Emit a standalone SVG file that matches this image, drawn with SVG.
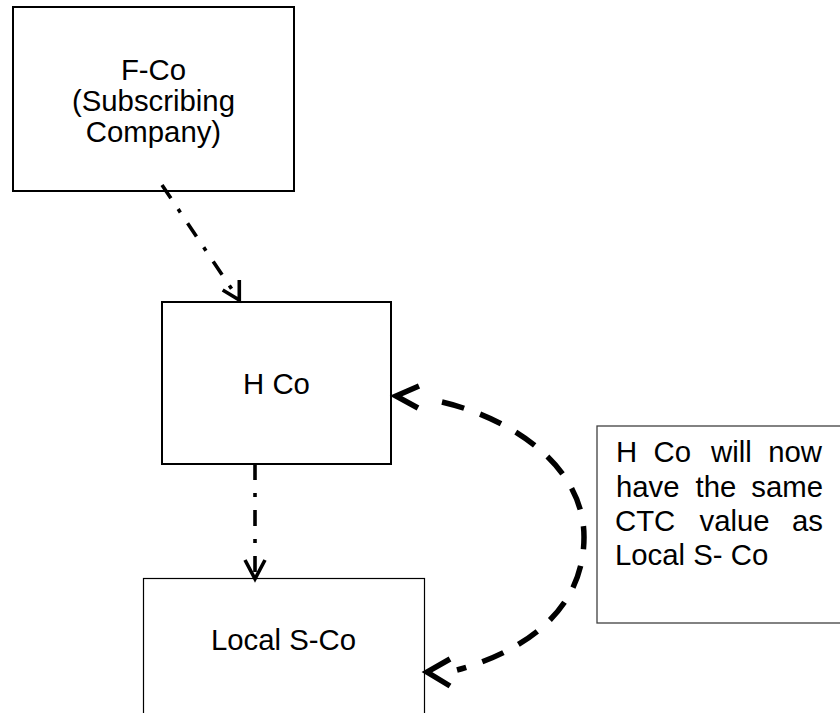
<svg xmlns="http://www.w3.org/2000/svg" width="840" height="713" viewBox="0 0 840 713">
<style>
  .box { fill: #ffffff; stroke: #000000; stroke-width: 2; }
  .thin { fill: #ffffff; stroke: #000000; stroke-width: 1.2; }
  .note { fill: #ffffff; stroke: #404040; stroke-width: 1.3; }
  text { font-family: "Liberation Sans", Arial, sans-serif; font-size: 29.33px; fill: #000000; }
  .c { text-anchor: middle; }
  .e { text-anchor: end; }
  .dashdot { fill: none; stroke: #000000; stroke-width: 3.6; stroke-dasharray: 16 13 4 13; }
  .dashed { fill: none; stroke: #000000; stroke-width: 5.5; stroke-dasharray: 23 17; }
  .head { fill: none; stroke: #000000; stroke-width: 3.6; stroke-linejoin: miter; }
  .headB { fill: none; stroke: #000000; stroke-width: 5.5; stroke-linejoin: miter; }
</style>
<rect width="840" height="713" fill="#ffffff"/>
<g id="fco">
  <rect class="box" x="13" y="7" width="281" height="184"/>
  <text class="c" x="153.5" y="80">F-Co</text>
  <text class="c" x="153.5" y="111">(Subscribing</text>
  <text class="c" x="153.5" y="142">Company)</text>
</g>
<g id="hco">
  <rect class="box" x="162" y="302" width="229" height="162"/>
  <text class="c" x="276.5" y="394">H Co</text>
</g>
<g id="localsco">
  <rect class="thin" x="143.5" y="578.5" width="281" height="200"/>
  <text class="c" x="283.5" y="650">Local S-Co</text>
</g>
<g id="note">
  <rect class="note" x="597" y="426" width="260" height="197"/>
  <text x="616" y="462">H</text>
  <text x="653.5" y="462">Co</text>
  <text x="711" y="462">will</text>
  <text class="e" x="822" y="462">now</text>
  <text x="616" y="496.5">have</text>
  <text x="695.5" y="496.5">the</text>
  <text class="e" x="823" y="496.5">same</text>
  <text x="615" y="531">CTC</text>
  <text x="699.5" y="531">value</text>
  <text class="e" x="823" y="531">as</text>
  <text x="615" y="565">Local S- Co</text>
</g>
<g id="connectors">
  <line class="dashdot" x1="162" y1="185" x2="239" y2="300"/>
  <polyline class="head" points="222.7,290 239.3,300 239.3,280"/>
  <line class="dashdot" x1="255" y1="464" x2="255" y2="578"/>
  <polyline class="head" points="245,560 255,579 265,560"/>
  <path class="dashed" d="M 442 402 C 510 418, 584 465, 584 537 C 584 612, 522 652, 457 670"/>
  <polyline class="headB" points="419,386 396,396 418,408"/>
  <polyline class="headB" points="450,659 427,672 450,686"/>
</g>
</svg>
